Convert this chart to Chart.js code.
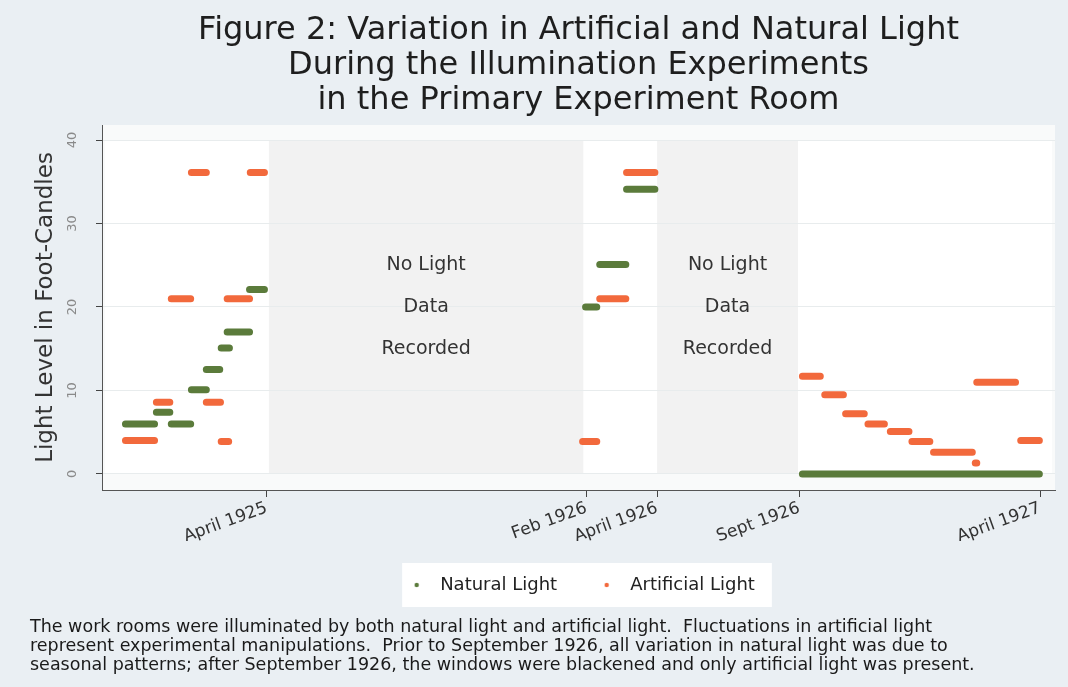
<!DOCTYPE html>
<html>
<head>
<meta charset="utf-8">
<script src="https://cdn.jsdelivr.net/npm/chart.js@4.4.1/dist/chart.umd.min.js"></script>
<style>
  html, body { margin: 0; padding: 0; background: #eaeff3; }
  #wrap { width: 1068px; height: 687px; }
</style>
</head>
<body>
<div id="wrap"><canvas id="lightChart" width="1068" height="687"></canvas></div>
<script>
// x is a week index along the study period
const naturalStart = [3.15, 7.3, 9.3, 12.0, 14.0, 16.0, 16.8, 19.8, 64.9, 66.8, 70.4, 94.0];
const naturalEnd   = [7.05, 9.1, 11.9, 14.0, 15.8, 17.1, 19.8, 21.8, 66.4, 70.3, 74.2, 125.8];
const naturalLevel = [6.0, 7.4, 6.0, 10.1, 12.5, 15.1, 17.0, 22.1, 20.0, 25.1, 34.1, 0];

const artificialStart = [3.15, 7.3, 9.3, 12.0, 14.0, 16.0, 16.8, 19.9, 64.5, 66.8, 70.4,
                         94.0, 97.0, 99.8, 102.8, 105.8, 108.7, 111.6, 117.2, 117.4, 123.3];
const artificialEnd   = [7.05, 9.1, 11.9, 14.0, 15.9, 17.0, 19.8, 21.8, 66.4, 70.3, 74.2,
                         96.4, 99.5, 102.3, 105.0, 108.3, 111.1, 116.8, 117.4, 122.6, 125.8];
const artificialLevel = [4.0, 8.6, 21.0, 36.1, 8.6, 3.9, 21.0, 36.1, 3.9, 21.0, 36.1,
                         11.7, 9.5, 7.2, 6.0, 5.1, 3.9, 2.6, 1.3, 11.0, 4.0];

const xTickValues = [22.1, 65.0, 74.5, 93.6, 125.9];
const xTickLabels = ['April 1925', 'Feb 1926', 'April 1926', 'Sept 1926', 'April 1927'];
const yTickValues = [0, 10, 20, 30, 40];

// periods without light measurements
const noDataFrom = [22.4, 74.5];
const noDataTo   = [64.6, 93.4];
const noDataText = ['No Light', 'Data', 'Recorded'];
const noDataRows = [25, 20, 15];

const GREEN = '#5b7b3b';
const ORANGE = '#f2693c';
const FONT = '"DejaVu Sans", "Liberation Sans", sans-serif';

function toPoints(starts, ends, levels) {
  const pts = [];
  starts.forEach((s, i) => {
    pts.push({ x: s, y: levels[i] }, { x: ends[i], y: levels[i] }, { x: ends[i], y: null });
  });
  return pts;
}

// small dot used as the legend marker
function dot(color) {
  const c = document.createElement('canvas');
  c.width = 6; c.height = 6;
  const g = c.getContext('2d');
  g.fillStyle = color;
  g.beginPath(); g.arc(3, 3, 2.2, 0, Math.PI * 2); g.fill();
  return c;
}

const backdrop = {
  id: 'backdrop',
  beforeDraw(chart) {
    const { ctx, chartArea: a, scales: { x, y } } = chart;
    ctx.save();
    ctx.fillStyle = '#eaeff3';
    ctx.fillRect(0, 0, chart.width, chart.height);
    ctx.fillStyle = '#f9fafa';
    ctx.fillRect(a.left, a.top, a.right - a.left, a.bottom - a.top);
    const top = y.getPixelForValue(yTickValues[yTickValues.length - 1]);
    const bottom = y.getPixelForValue(yTickValues[0]);
    ctx.fillStyle = '#ffffff';
    ctx.fillRect(a.left + 3, top, a.right - a.left - 6, bottom - top);
    ctx.fillStyle = '#f2f2f2';
    noDataFrom.forEach((f, i) => {
      const l = x.getPixelForValue(f), r = x.getPixelForValue(noDataTo[i]);
      ctx.fillRect(l, top, r - l, bottom - top);
    });
    const lg = chart.legend;
    if (lg && lg.legendHitBoxes && lg.legendHitBoxes.length) {
      const hb = lg.legendHitBoxes;
      const l = Math.min(...hb.map(h => h.left));
      const r = Math.max(...hb.map(h => h.left + h.width)) + 17;
      const cy = hb[0].top + hb[0].height / 2;
      ctx.fillStyle = '#ffffff';
      ctx.fillRect(l, cy - 22, r - l, 44);
    }
    ctx.restore();
  },
  beforeDatasetsDraw(chart) {
    const { ctx, scales: { x, y } } = chart;
    ctx.save();
    ctx.font = '19px ' + FONT;
    ctx.fillStyle = '#333333';
    ctx.textAlign = 'center';
    ctx.textBaseline = 'middle';
    noDataFrom.forEach((f, i) => {
      const cx = (x.getPixelForValue(f) + x.getPixelForValue(noDataTo[i])) / 2;
      noDataText.forEach((t, j) => ctx.fillText(t, cx, y.getPixelForValue(noDataRows[j])));
    });
    ctx.restore();
  }
};

const ctx = document.getElementById('lightChart').getContext('2d');
new Chart(ctx, {
  type: 'line',
  data: {
    datasets: [{
      label: 'Natural Light',
      data: toPoints(naturalStart, naturalEnd, naturalLevel),
      borderColor: GREEN,
      backgroundColor: GREEN,
      borderWidth: 7,
      borderCapStyle: 'round',
      pointRadius: 0,
      spanGaps: false
    }, {
      label: 'Artificial Light',
      data: toPoints(artificialStart, artificialEnd, artificialLevel),
      borderColor: ORANGE,
      backgroundColor: ORANGE,
      borderWidth: 7,
      borderCapStyle: 'round',
      pointRadius: 0,
      spanGaps: false
    }]
  },
  options: {
    responsive: false,
    animation: false,
    devicePixelRatio: 1,
    layout: { padding: { left: 30, right: 13, top: 0, bottom: 6 } },
    scales: {
      x: {
        type: 'linear',
        min: 0,
        max: 127.9,
        afterBuildTicks: scale => { scale.ticks = xTickValues.map(v => ({ value: v })); },
        afterFit: scale => { scale.height = 51; },
        ticks: {
          autoSkip: false,
          minRotation: 20,
          maxRotation: 20,
          padding: 1,
          color: '#333333',
          font: { family: FONT, size: 17 },
          callback: (v, i) => xTickLabels[i]
        },
        grid: { drawOnChartArea: false, tickLength: 7, tickColor: '#444444' },
        border: { color: '#555555', width: 1 }
      },
      y: {
        min: -1.92,
        max: 41.8,
        afterBuildTicks: scale => { scale.ticks = yTickValues.map(v => ({ value: v })); },
        afterFit: scale => { scale.width = 72; },
        ticks: {
          autoSkip: false,
          minRotation: 90,
          maxRotation: 90,
          crossAlign: 'center',
          padding: 15,
          color: '#8a8a8a',
          font: { family: FONT, size: 13 }
        },
        grid: { color: '#e8eced', tickLength: 6, tickColor: '#444444' },
        border: { color: '#555555', width: 1 },
        title: {
          display: true,
          text: 'Light Level in Foot-Candles',
          color: '#333333',
          font: { family: FONT, size: 23 },
          padding: { top: 2, bottom: 0 }
        }
      }
    },
    plugins: {
      title: {
        display: true,
        text: ['Figure 2: Variation in Artificial and Natural Light',
               'During the Illumination Experiments',
               'in the Primary Experiment Room'],
        color: '#1e1e1e',
        font: { family: FONT, size: 32, weight: 'normal', lineHeight: '35px' },
        padding: { top: 13, bottom: 7 },
        fullSize: false
      },
      subtitle: {
        display: true,
        position: 'bottom',
        align: 'start',
        fullSize: true,
        text: ['The work rooms were illuminated by both natural light and artificial light.  Fluctuations in artificial light',
               'represent experimental manipulations.  Prior to September 1926, all variation in natural light was due to',
               'seasonal patterns; after September 1926, the windows were blackened and only artificial light was present.'],
        color: '#1a1a1a',
        font: { family: FONT, size: 17.5, lineHeight: '19px' },
        padding: { top: 14, bottom: 6 }
      },
      legend: {
        position: 'bottom',
        fullSize: false,
        labels: {
          usePointStyle: true,
          pointStyleWidth: 29,
          boxHeight: 6,
          padding: 35,
          color: '#222222',
          font: { family: FONT, size: 18 },
          generateLabels: chart => {
            const items = Chart.defaults.plugins.legend.labels.generateLabels(chart);
            items.forEach(it => { it.lineWidth = 0; it.pointStyle = dot(it.strokeStyle); });
            return items;
          }
        }
      },
      tooltip: { enabled: false }
    }
  },
  plugins: [backdrop]
});
</script>
</body>
</html>
